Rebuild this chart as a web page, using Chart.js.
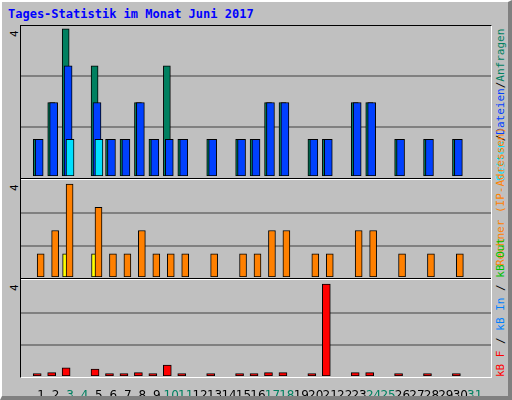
<!DOCTYPE html>
<html>
<head>
<meta charset="utf-8">
<script src="https://cdn.jsdelivr.net/npm/chart.js@4"></script>
<style>
  body { margin: 0; background: #c0c0c0; }
  #frame { position: absolute; left: 0; top: 0; width: 506px; height: 394px; background: #c0c0c0;
           border-left: 2px solid #fff; border-top: 2px solid #fff; border-right: 4px solid #808080; border-bottom: 4px solid #808080; }
  #title { position: absolute; left: 8px; top: 7px; font: bold 12px "DejaVu Sans Mono", monospace; color: #0000ff; }
  #plot { position: absolute; left: 20px; top: 25px; width: 470px; height: 351px; border: 1px solid #000;
          border-right-color: #fff; border-bottom-color: #fff; }
  .sep { position: absolute; left: 21px; width: 470px; height: 1px; background: #000; border-bottom: 1px solid #fff; }
  canvas { position: absolute; }
  .rot { position: absolute; transform-origin: 0 0; transform: rotate(-90deg); white-space: nowrap;
         font: 11px "DejaVu Sans Mono", monospace; }
</style>
</head>
<body>
<div id="frame"></div>
<div id="title">Tages-Statistik im Monat Juni 2017</div>
<div id="plot"></div>
<div class="sep" style="top:178px"></div>
<div class="sep" style="top:278px"></div>
<div class="rot" style="left:8px;top:37px">4</div>
<div class="rot" style="left:8px;top:191px">4</div>
<div class="rot" style="left:8px;top:291px">4</div>
<div class="rot" style="left:494px;top:181px"><span style="color:#00e0ff">Seiten</span>/<span style="color:#0040ff">Dateien</span>/<span style="color:#008060">Anfragen</span></div>
<div class="rot" style="left:494px;top:266px;color:#ff8000">Rechner (IP-Adressen)</div>
<div class="rot" style="left:494px;top:377px"><span style="color:#ff0000">kB F</span> / <span style="color:#0080ff">kB In</span> / <span style="color:#00c000">kB Out</span></div>
<canvas id="c1" style="left:21px;top:26px" width="470" height="150"></canvas>
<canvas id="c2" style="left:21px;top:181px" width="470" height="96"></canvas>
<canvas id="c3" style="left:21px;top:281px" width="470" height="115"></canvas>
<script>
const days = Array.from({length: 31}, (_, i) => i + 1);
const weekend = [3, 4, 10, 11, 17, 18, 24, 25, 31];
const hits   = [1,2,4,0,3,1,1,2,1,3,1,0,1,0,1,1,2,2,0,1,1,0,2,2,0,1,0,1,0,1,0];
const files  = [1,2,3,0,2,1,1,2,1,1,1,0,1,0,1,1,2,2,0,1,1,0,2,2,0,1,0,1,0,1,0];
const pages  = [0,0,1,0,1,0,0,0,0,0,0,0,0,0,0,0,0,0,0,0,0,0,0,0,0,0,0,0,0,0,0];
const visits = [0,0,1,0,1,0,0,0,0,0,0,0,0,0,0,0,0,0,0,0,0,0,0,0,0,0,0,0,0,0,0];
const sites  = [1,2,4,0,3,1,1,2,1,1,1,0,1,0,1,1,2,2,0,1,1,0,2,2,0,1,0,1,0,1,0];
const kbytes = [0.1,0.15,0.35,0,0.3,0.1,0.1,0.15,0.1,0.48,0.1,0,0.1,0,0.1,0.1,0.15,0.15,0,0.1,4,0,0.15,0.15,0,0.1,0,0.1,0,0.1,0];

function pts(vals, off) {
  return vals.map((v, i) => ({x: days[i] + off, y: v > 0 ? v : null}));
}
function ds(vals, off, color, w) {
  return { data: pts(vals, off), backgroundColor: color, borderColor: '#000', borderWidth: 1,
           barThickness: w, grouped: false, borderSkipped: false };
}
function opts(ymax, showX) {
  return {
    responsive: false, animation: false, events: [],
    layout: { padding: 0 },
    plugins: { legend: { display: false }, tooltip: { enabled: false } },
    scales: {
      x: { type: 'linear', min: 0.133, max: 31.6, grid: { display: false }, border: { display: false },
           afterBuildTicks: s => { s.ticks = days.map(d => ({value: d})); },
           afterFit: s => { if (!showX) s.height = 0; else s.height = 20; },
           ticks: { display: showX, autoSkip: false, maxRotation: 0, padding: 5,
                    font: { family: 'DejaVu Sans', size: 12 },
                    color: c => weekend.includes(c.tick && c.tick.value) ? '#008060' : '#000' } },
      y: { min: 0, max: ymax, border: { display: false },
           afterFit: s => { s.width = 0; },
           afterBuildTicks: s => { s.ticks = [{value: ymax * 0.327}, {value: ymax * 0.667}]; },
           grid: { color: '#808080', lineWidth: 2, drawTicks: false },
           ticks: { display: false } }
    }
  };
}
new Chart(document.getElementById('c1'), { type: 'bar',
  data: { datasets: [ ds(pages, 0, '#00e0ff', 8), ds(files, -0.133, '#0040ff', 8), ds(hits, -0.3, '#008060', 7) ] },
  options: opts(4.08, false) });
new Chart(document.getElementById('c2'), { type: 'bar',
  data: { datasets: [ ds(sites, -0.03, '#ff8000', 7), ds(visits, -0.27, '#ffff00', 7) ] },
  options: opts(4.13, false) });
new Chart(document.getElementById('c3'), { type: 'bar',
  data: { datasets: [ ds(kbytes, -0.27, '#ff0000', 8) ] },
  options: opts(4.13, true) });
</script>
</body>
</html>
